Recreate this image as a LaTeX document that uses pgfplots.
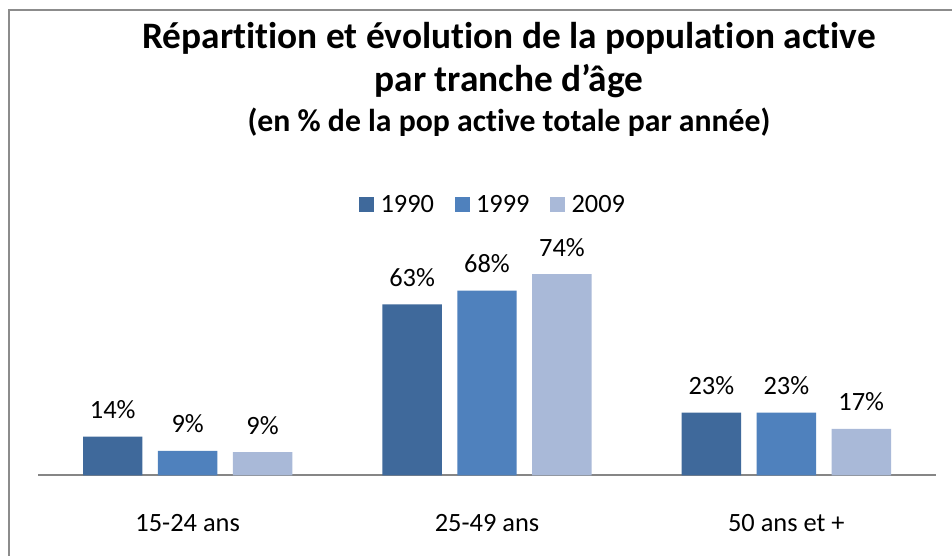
\documentclass[border=0pt]{standalone}
\usepackage{fontspec}
\setmainfont{Carlito}[Ligatures={NoCommon}]
\usepackage{pgfplots}
\pgfplotsset{compat=1.18}
\definecolor{c1990}{RGB}{63,105,155}
\definecolor{c1999}{RGB}{79,129,189}
\definecolor{c2009}{RGB}{169,185,216}
\definecolor{framegray}{RGB}{140,140,140}
\definecolor{axisgray}{RGB}{134,134,134}
\newcommand{\lblfont}{\fontsize{19.8}{24}\selectfont}
\begin{document}
\begin{tikzpicture}
\useasboundingbox (0,0) rectangle (714pt,417pt);
\fill[white] (0,0) rectangle (714pt,417pt);
\draw[framegray, line width=1.5pt] (6.75pt,0) -- (6.75pt,409.5pt) -- (714pt,409.5pt);
\node[font=\fontsize{28}{33}\selectfont\bfseries, anchor=base, inner sep=0pt] at (381.75pt,380.25pt) {Répartition et évolution de la population active};
\node[font=\fontsize{28}{33}\selectfont\bfseries, anchor=base, inner sep=0pt] at (381.75pt,348pt) {par tranche d’âge};
\node[font=\fontsize{23.8}{28}\selectfont\bfseries, anchor=base, inner sep=0pt] at (381.75pt,318pt) {(en \% de la pop active totale par année)};
\begin{axis}[
  at={(28.5pt,60.4pt)}, anchor=south west,
  width=673.5pt, height=163.2pt, scale only axis,
  xmin=-0.5, xmax=2.5, ymin=0, ymax=80,
  ybar=11.6pt, bar width=44.6pt,
  axis x line*=bottom, axis y line=none,
  x axis line style={axisgray, line width=1.5pt, -},
  xtick={0,1,2}, xticklabels={15-24 ans, 25-49 ans, 50 ans et +},
  xtick style={draw=none}, ytick=\empty,
  xticklabel style={anchor=base, yshift=-37.9pt, font=\lblfont, text=black},
  nodes near coords, point meta=explicit symbolic,
  nodes near coords style={anchor=base, yshift=13.5pt, font=\lblfont, text=black},
  clip=false,
  legend style={draw=none, fill=none, legend columns=-1,
    at={(0.3575,1.2454)}, anchor=west, inner sep=0pt, font=\lblfont,
    nodes={inner sep=0pt},
    /tikz/every odd column/.append style={column sep=4.65pt},
    /tikz/every even column/.append style={column sep=15.6pt}},
  legend image code/.code={\fill[#1] (0pt,-5.6pt) rectangle (11.25pt,5.6pt);},
]
\addplot[fill=c1990, draw=none] coordinates {(0,14.3) [14\%] (1,62.9) [63\%] (2,23.1) [23\%]};
\addplot[fill=c1999, draw=none] coordinates {(0,9.0) [9\%] (1,68.0) [68\%] (2,23.1) [23\%]};
\addplot[fill=c2009, draw=none] coordinates {(0,8.6) [9\%] (1,74.0) [74\%] (2,17.1) [17\%]};
\legend{1990,1999,2009}
\end{axis}
\end{tikzpicture}
\end{document}
